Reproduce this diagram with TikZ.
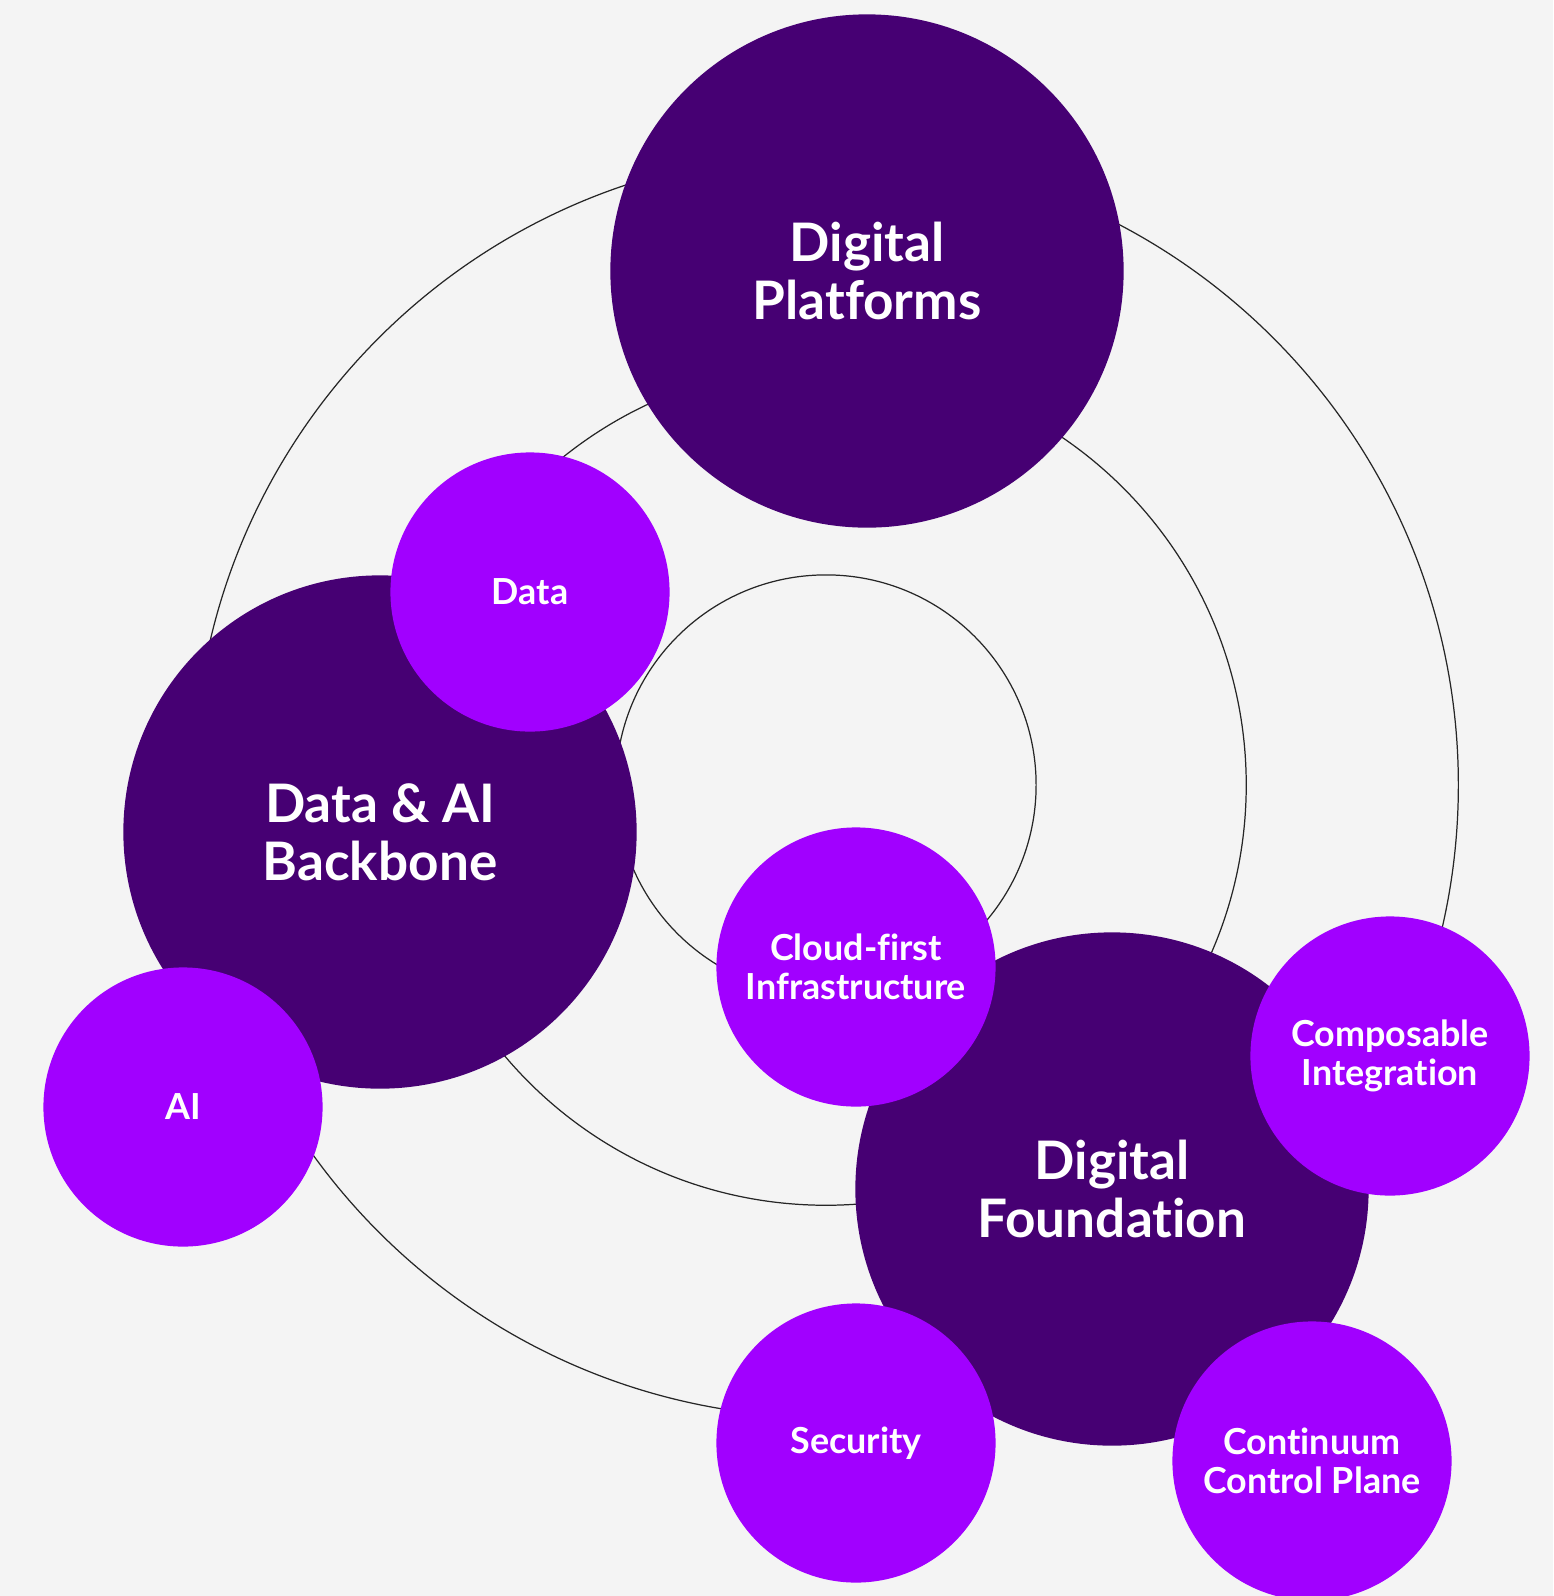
\documentclass[tikz,border=0pt]{standalone}
\usepackage{fontspec}
\setmainfont{Lato}[Ligatures={NoCommon}]
\definecolor{deep}{HTML}{460073}
\definecolor{vivid}{HTML}{A100FF}
\definecolor{paper}{HTML}{F4F4F4}
\begin{document}
\begin{tikzpicture}
      [x=0.01cm,y=-0.01cm,
       every node/.style={circle,text=white,align=center,inner sep=0pt},
       big/.style={fill=deep,minimum size=5.13cm,font=\bfseries\fontsize{15.1}{16.5}\selectfont},
       small/.style={fill=vivid,minimum size=2.79cm,font=\bfseries\fontsize{10.2}{11}\selectfont}]
      \fill [paper] (0,0) rectangle (1553,1596);
      \useasboundingbox (0,0) rectangle (1553,1596);

      % rings
      \coordinate (hub) at (826,785);
      \foreach \r in {2.1,4.2,6.32}
      \draw [line width=0.35pt,black!85] (hub) circle (\r cm);

      \node [big] (dp) at (867,271) {Digital\\Platforms};
      \node [big] (dab) at (380,832) {Data \& AI\\Backbone};
      \node [big] (df) at (1112,1189) {Digital\\Foundation};

      \node [small] (data) at (530,592) {Data};
      \node [small] (ai) at (183,1107) {AI};
      \node [small] (cloud) at (856,967) {Cloud-first\\Infrastructure};
      \node [small] (comp) at (1390,1056) {Composable\\Integration};
      \node [small] (sec) at (856,1443) {Security};
      \node [small] (ccp) at (1312,1461) {Continuum\\Control Plane};
    \end{tikzpicture}
\end{document}
